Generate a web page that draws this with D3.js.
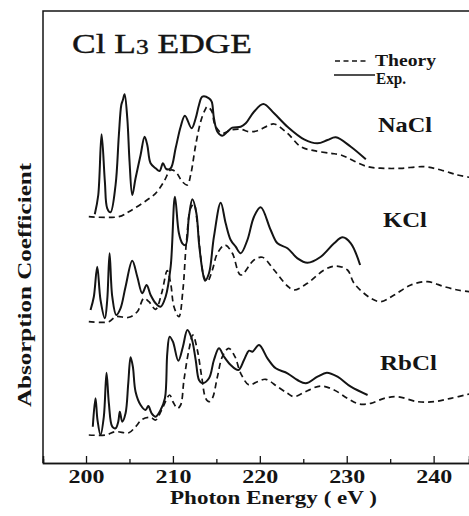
<!DOCTYPE html>
<html><head><meta charset="utf-8">
<script src="https://cdn.jsdelivr.net/npm/d3@7"></script>
<style>body{margin:0;background:#fff}svg{display:block}</style>
</head><body><svg id="c" width="469" height="516"></svg>
<script>
// ---- data (photon energy eV, absorption in arbitrary units incl. vertical offset) ----
const majorTicks = [200, 210, 220, 230, 240];
const minorTicks = [205, 215, 225, 235];
const compounds = ["NaCl", "KCl", "RbCl"];
const legendLabels = ["Theory", "Exp."];

const naclExp = [[201.01,24.87],[201.41,26.8],[201.79,32.87],[202.17,28.13],[202.44,25.47],[202.82,25.07],[203.40,27.8],[203.78,32.8],[204.06,35.8],[204.24,36.3],[204.44,36.87],[204.75,34.47],[205.01,30.13],[205.32,26.8],[205.70,28.47],[206.28,30.8],[206.74,32.63],[207.05,31.8],[207.43,29.97],[208.01,29.47],[208.47,29.2],[208.85,29.97],[209.24,29.4],[209.74,29.47],[210.31,31.47],[210.89,33.63],[211.38,34.73],[212.15,33.47],[212.62,34.47],[213.0,35.8],[213.39,36.63],[214.15,36.47],[214.46,36.13],[214.72,34.47],[215.12,33.13],[215.69,32.73],[216.27,33.13],[216.84,33.53],[217.80,33.63],[218.38,33.97],[219.33,35.13],[220.41,35.9],[221.64,34.97],[223.18,33.63],[225.09,32.37],[226.64,31.97],[227.79,32.3],[228.74,32.57],[230.47,31.63],[232.2,30.37]];
const naclTheory = [[200.32,24.63],[203.78,24.63],[204.93,25.13],[206.47,25.97],[208.01,26.97],[208.96,28.13],[209.74,29.3],[210.31,29.13],[211.08,28.13],[211.66,27.8],[212.04,28.8],[212.62,31.8],[213.19,34.13],[213.69,35.3],[213.96,35.63],[214.46,35.2],[214.72,34.13],[214.92,33.63],[215.69,32.97],[216.65,33.3],[217.80,33.37],[218.76,33.13],[219.72,33.23],[220.88,33.7],[221.64,33.9],[223.18,32.97],[224.71,31.63],[226.24,31.23],[228.17,30.97],[229.32,30.8],[232.4,29.63],[234.31,29.47],[236.23,29.47],[238.92,29.63],[240.84,29.3],[242.76,28.8],[244.1,28.57]];

const kclExp = [[200.52,15.3],[200.90,16.63],[201.29,19.63],[201.67,16.3],[202.17,14.47],[202.44,16.3],[202.71,20.97],[203.02,16.63],[203.48,14.8],[203.97,15.47],[204.55,17.63],[205.32,20.23],[205.90,18.63],[206.47,16.97],[206.97,17.8],[207.43,16.8],[208.01,15.97],[208.58,15.63],[209.16,16.63],[209.74,19.63],[210.23,26.63],[210.69,22.97],[211.08,21.97],[211.46,21.8],[211.84,24.63],[212.24,26.37],[212.70,24.97],[213.0,21.97],[213.39,19.3],[213.69,18.23],[214.15,18.97],[214.72,22.63],[215.50,26.03],[216.07,23.97],[216.65,22.3],[217.22,21.63],[217.80,20.97],[218.57,22.3],[219.33,24.63],[220.10,25.57],[221.25,23.3],[222.03,21.97],[223.18,21.47],[224.33,20.47],[225.48,20.03],[227.02,20.63],[228.55,21.97],[229.52,22.57],[230.47,21.97],[231.54,19.8]];
const kclTheory = [[200.32,14.13],[202.63,14.13],[203.40,14.63],[204.93,14.57],[205.90,15.13],[206.66,16.47],[207.24,16.13],[208.01,15.37],[208.70,16.97],[209.35,19.23],[209.74,17.97],[210.12,15.63],[210.69,14.63],[211.15,17.3],[211.54,21.97],[212.04,25.47],[212.42,25.9],[212.81,23.97],[213.19,20.63],[213.57,18.63],[213.96,18.13],[214.54,19.3],[215.12,20.97],[215.99,21.8],[216.84,20.97],[217.80,18.8],[219.33,20.3],[220.30,20.57],[221.64,19.3],[223.18,17.7],[223.94,17.3],[225.48,17.97],[227.40,19.3],[228.74,19.7],[230.09,19.3],[230.85,17.97],[232.78,16.47],[233.93,16.13],[235.46,16.8],[237.38,17.8],[239.31,18.13],[241.22,17.63],[242.76,17.3],[244.1,17.13]];

const rbclExp = [[200.78,3.63],[201.09,6.47],[201.32,4.3],[201.67,2.8],[202.05,4.63],[202.36,9.03],[202.63,5.97],[203.02,3.63],[203.40,3.47],[203.71,4.13],[203.89,5.13],[204.17,4.13],[204.55,4.97],[204.86,7.97],[205.13,10.57],[205.39,9.63],[205.70,7.13],[206.28,5.8],[206.85,5.3],[207.17,5.7],[207.55,4.97],[208.01,4.63],[208.58,5.3],[209.08,6.47],[209.35,10.97],[209.62,12.63],[210.0,12.13],[210.62,10.23],[211.15,11.63],[211.66,13.3],[212.15,12.47],[212.62,10.3],[213.0,8.3],[213.39,7.97],[214.15,8.47],[214.72,10.3],[215.30,11.47],[215.88,10.63],[216.65,9.8],[217.53,9.3],[218.18,10.3],[218.76,11.23],[219.15,11.13],[219.91,11.8],[220.88,10.47],[221.83,9.47],[223.18,8.97],[224.33,8.3],[225.29,7.97],[226.64,8.63],[227.71,9.03],[228.94,8.63],[230.47,7.63],[232.40,6.8]];
const rbclTheory = [[200.32,2.8],[202.25,2.8],[203.40,3.13],[204.93,3.03],[205.70,3.63],[206.47,4.37],[207.43,4.57],[208.01,4.3],[208.70,5.3],[209.62,6.8],[210.0,6.13],[210.51,5.47],[210.89,5.8],[211.27,8.3],[211.84,11.3],[212.30,12.8],[212.81,11.3],[213.31,8.63],[213.77,6.47],[214.15,6.13],[214.54,6.47],[215.12,8.63],[215.69,10.63],[216.42,11.47],[217.14,10.63],[217.80,8.97],[218.76,7.8],[219.72,8.13],[220.68,8.37],[222.03,7.63],[223.18,6.97],[223.94,6.63],[225.48,7.23],[227.02,7.7],[228.55,7.3],[230.09,6.47],[231.43,5.9],[232.78,5.97],[234.31,6.47],[235.85,6.63],[238.16,6.13],[240.07,6.13],[241.99,6.47],[244.1,6.9]];

// ---- layout ----
const mLeft = 43, mTop = 11, mBottom = 463, mRight = 469;
const svg = d3.select("#c");
const x = d3.scaleLinear().domain([195.05, 244.07]).range([mLeft, mRight]);
const y = d3.scaleLinear().domain([0, 45.2]).range([mBottom, mTop]);
const serif = "'Liberation Serif', 'Times New Roman', serif";
const ink = "#141414";

svg.append("defs").append("clipPath").attr("id", "clip")
  .append("rect").attr("x", mLeft).attr("y", mTop).attr("width", mRight - mLeft).attr("height", mBottom - mTop);

// frame (left and top)
svg.append("path").attr("d", `M${mRight},${mTop}H${mLeft}V${mBottom}`)
  .attr("fill", "none").attr("stroke", ink).attr("stroke-width", 1.5);

// x axis with inward ticks
const gx = svg.append("g").attr("transform", `translate(0,${mBottom})`);
gx.call(d3.axisBottom(x).tickValues(majorTicks).tickSize(-7).tickPadding(14).tickFormat(d3.format("d")));
gx.append("g").call(d3.axisBottom(x).tickValues(minorTicks).tickSize(-4).tickFormat(""));
gx.selectAll(".domain").attr("stroke", ink).attr("stroke-width", 1.5);
gx.selectAll(".tick line").attr("stroke", ink).attr("stroke-width", 1.3);
gx.selectAll(".tick text").attr("fill", ink).attr("font-family", serif).attr("font-weight", "bold")
  .attr("font-size", 18).attr("textLength", 36).attr("lengthAdjust", "spacingAndGlyphs")
  .attr("y", 19.5).attr("dy", 0);

// curves
const line = d3.line().x(d => x(d[0])).y(d => y(d[1])).curve(d3.curveCatmullRom.alpha(0.5));
const plot = svg.append("g").attr("clip-path", "url(#clip)");
const theory = [naclTheory, kclTheory, rbclTheory];
const exp = [naclExp, kclExp, rbclExp];
theory.forEach(s => plot.append("path").datum(s).attr("d", line)
  .attr("fill", "none").attr("stroke", ink).attr("stroke-width", 1.7).attr("stroke-dasharray", "6,4"));
exp.forEach(s => plot.append("path").datum(s).attr("d", line)
  .attr("fill", "none").attr("stroke", ink).attr("stroke-width", 2).attr("stroke-linejoin", "round"));

// compound labels
const labelPos = [[378, 132, 54], [383, 227, 44], [380, 370, 57]];
compounds.forEach((c, i) => svg.append("text").text(c)
  .attr("x", labelPos[i][0]).attr("y", labelPos[i][1])
  .attr("textLength", labelPos[i][2]).attr("lengthAdjust", "spacingAndGlyphs")
  .attr("font-family", serif).attr("font-weight", "bold").attr("font-size", 22).attr("fill", ink));

// title
const t = svg.append("text").attr("x", 72).attr("y", 53).attr("font-family", serif)
  .attr("font-size", 28).attr("fill", ink).attr("stroke", ink).attr("stroke-width", 0.4)
  .attr("textLength", 180).attr("lengthAdjust", "spacingAndGlyphs");
t.append("tspan").text("Cl L");
t.append("tspan").text("3").attr("font-size", 20).attr("dy", 1);
t.append("tspan").text(" EDGE").attr("dy", -1);

// legend
svg.append("line").attr("x1", 335).attr("x2", 368).attr("y1", 61).attr("y2", 61)
  .attr("stroke", ink).attr("stroke-width", 1.6).attr("stroke-dasharray", "5,3.5");
svg.append("line").attr("x1", 334).attr("x2", 375).attr("y1", 75).attr("y2", 75)
  .attr("stroke", ink).attr("stroke-width", 1.6);
svg.append("text").text(legendLabels[0]).attr("x", 375).attr("y", 66)
  .attr("font-family", serif).attr("font-weight", "bold").attr("font-size", 16).attr("fill", ink)
  .attr("textLength", 61).attr("lengthAdjust", "spacingAndGlyphs");
svg.append("text").text(legendLabels[1]).attr("x", 376).attr("y", 83.5)
  .attr("font-family", serif).attr("font-weight", "bold").attr("font-size", 16).attr("fill", ink)
  .attr("textLength", 30).attr("lengthAdjust", "spacingAndGlyphs");

// axis titles
svg.append("text").text("Photon Energy ( eV )").attr("x", 170).attr("y", 504)
  .attr("font-family", serif).attr("font-weight", "bold").attr("font-size", 19.5).attr("fill", ink)
  .attr("textLength", 207).attr("lengthAdjust", "spacingAndGlyphs");
svg.append("text").text("Absorption Coefficient")
  .attr("transform", "translate(31,407) rotate(-90)")
  .attr("font-family", serif).attr("font-weight", "bold").attr("font-size", 18).attr("fill", ink)
  .attr("textLength", 244).attr("lengthAdjust", "spacingAndGlyphs");
</script></body></html>
